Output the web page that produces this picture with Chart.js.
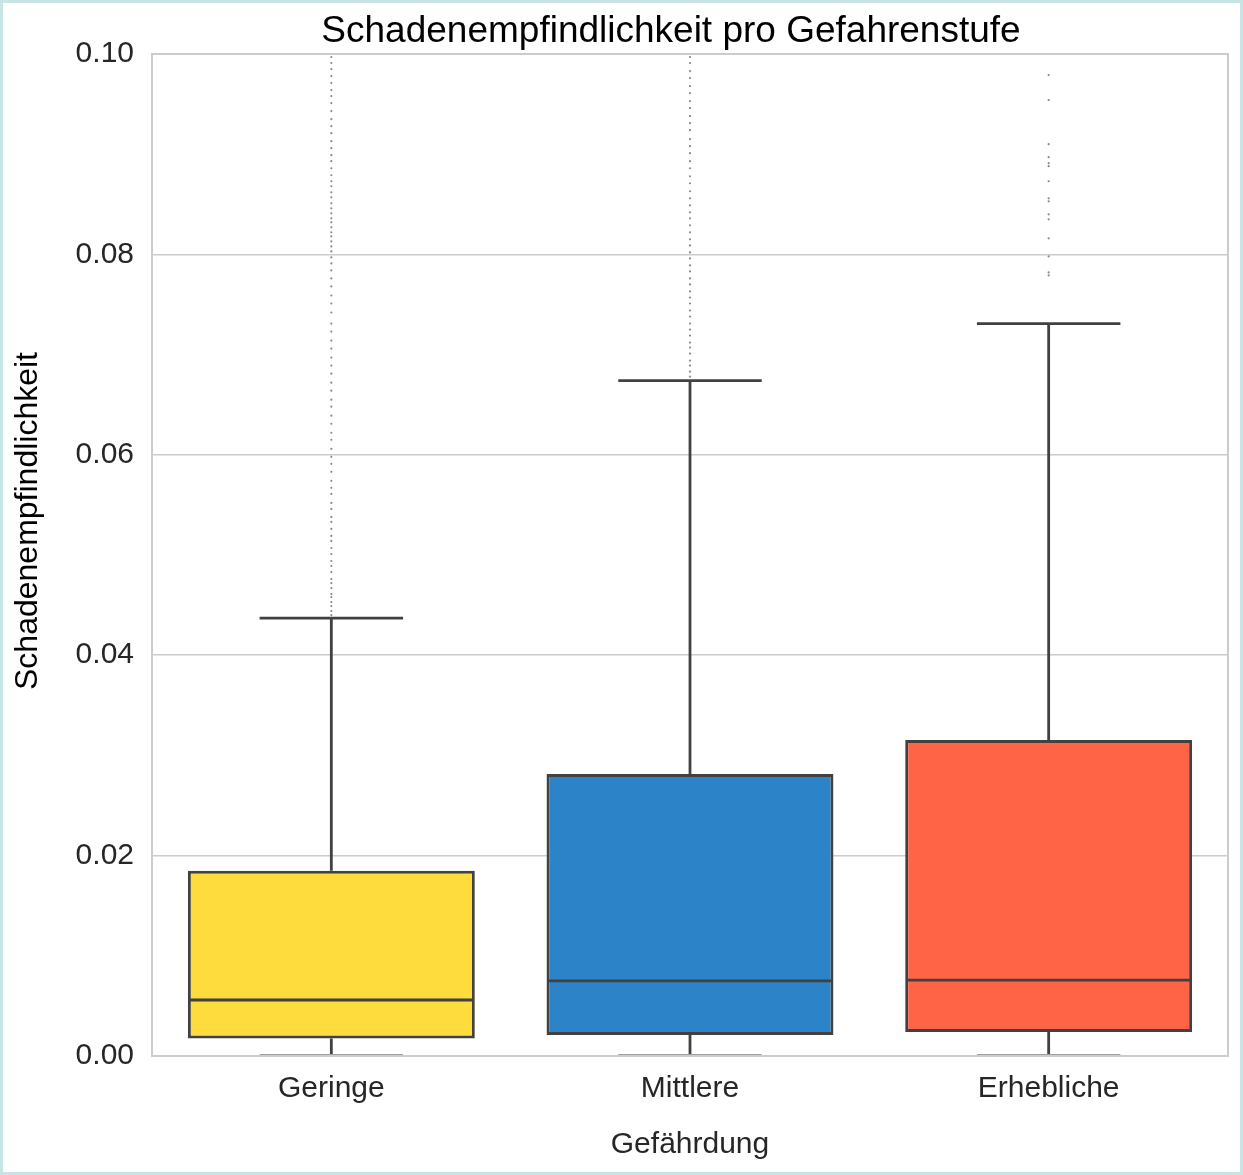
<!DOCTYPE html>
<html>
<head>
<meta charset="utf-8">
<script src="https://cdn.jsdelivr.net/npm/chart.js@4.4.1/dist/chart.umd.min.js"></script>
<style>
  html, body { margin: 0; padding: 0; background: #fff; }
  #frame { width: 1243px; height: 1175px; box-sizing: border-box; border: 3px solid #c8e4e4; position: relative; }
  #frame canvas { display: block; }
</style>
</head>
<body>
<div id="frame"><canvas id="mycanvas" width="1237" height="1169"></canvas></div>
<script>
var categories = ["Geringe", "Mittlere", "Erhebliche"];
var q1 = [0.00175, 0.0021, 0.0024];
var q3 = [0.0185, 0.02814, 0.03154];
var medians = [0.00559, 0.00749, 0.00758];
var whiskerLow = [0.0001, 0.0001, 0.0001];
var whiskerHigh = [0.0437, 0.0674, 0.0731];
var boxColors = ["#FEDC3D", "#2D83C8", "#FF6446"];
var yTicks = [0, 0.02, 0.04, 0.06, 0.08, 0.10];

var outliersGeringe = [0.0440, 0.0444, 0.0449, 0.0453, 0.0458, 0.0461, 0.0467, 0.0472, 0.0476, 0.0483,
  0.0489, 0.0494, 0.0501, 0.0507, 0.0514, 0.0519, 0.0526, 0.0533, 0.0538, 0.0546, 0.0552, 0.0561,
  0.0567, 0.0574, 0.0583, 0.0591, 0.0598, 0.0606, 0.0615, 0.0622, 0.0631, 0.0639, 0.0648, 0.0655,
  0.0664, 0.0672, 0.0681, 0.0689, 0.0697, 0.0706, 0.0714, 0.0723, 0.0731, 0.0742, 0.0751, 0.0759,
  0.0768, 0.0776, 0.0784, 0.0791, 0.0797, 0.0803, 0.0808, 0.0813, 0.0818, 0.0822, 0.0827, 0.0832,
  0.0836, 0.0841, 0.0846, 0.0851, 0.0857, 0.0862, 0.0868, 0.0873, 0.0879, 0.0886, 0.0893, 0.0899,
  0.0906, 0.0913, 0.0921, 0.0928, 0.0935, 0.0943, 0.0951, 0.0958, 0.0964, 0.0971, 0.0978, 0.0985,
  0.0991, 0.0997];
var outliersMittlere = [0.0678, 0.0683, 0.0689, 0.0694, 0.0701, 0.0707, 0.0712, 0.0719, 0.0725, 0.0731,
  0.0738, 0.0744, 0.0751, 0.0757, 0.0763, 0.0770, 0.0776, 0.0783, 0.0789, 0.0796, 0.0802, 0.0809,
  0.0815, 0.0822, 0.0829, 0.0836, 0.0842, 0.0849, 0.0856, 0.0863, 0.0871, 0.0878, 0.0886, 0.0893,
  0.0901, 0.0908, 0.0915, 0.0924, 0.0931, 0.0938, 0.0946, 0.0953, 0.0961, 0.0968, 0.0976, 0.0983,
  0.0991, 0.0997];
var outliersErhebliche = [0.0979, 0.0954, 0.0910, 0.0897, 0.0891, 0.0888, 0.0873, 0.0856, 0.0853,
  0.0840, 0.0835, 0.0816, 0.0798, 0.0782, 0.0779];

var FONT = "'Liberation Sans', Arial, sans-serif";

// outlier points as {x: category, y: value}
var outlierPoints = [];
[outliersGeringe, outliersMittlere, outliersErhebliche].forEach(function(list, i) {
  list.forEach(function(v) { outlierPoints.push({ x: categories[i], y: v }); });
});

var boxData = [];
for (var i in categories) {
  boxData.push([q1[i], q3[i]]);
}

// whiskers, caps, medians, frame and titles
var boxDetails = {
  id: 'boxDetails',
  afterDatasetsDraw: function(chart) {
    var ctx = chart.ctx;
    var y = chart.scales.y;
    var meta = chart.getDatasetMeta(0);
    ctx.save();
    ctx.lineCap = "butt";
    meta.data.forEach(function(bar, i) {
      var x = bar.x, w = bar.width;
      var pq1 = y.getPixelForValue(q1[i]);
      var pq3 = y.getPixelForValue(q3[i]);
      var plo = y.getPixelForValue(whiskerLow[i]);
      var phi = y.getPixelForValue(whiskerHigh[i]);
      var pmed = y.getPixelForValue(medians[i]);
      ctx.strokeStyle = "#414141";
      ctx.lineWidth = 2.8;
      ctx.beginPath();
      ctx.moveTo(x, pq3); ctx.lineTo(x, phi);
      ctx.moveTo(x - w / 4, phi); ctx.lineTo(x + w / 4, phi);
      ctx.moveTo(x, pq1); ctx.lineTo(x, plo);
      ctx.moveTo(x - w / 2 + 1, pmed); ctx.lineTo(x + w / 2 - 1, pmed);
      ctx.stroke();
      ctx.strokeStyle = "#a0a0a0";
      ctx.lineWidth = 2;
      ctx.beginPath();
      ctx.moveTo(x - w / 4, plo); ctx.lineTo(x + w / 4, plo);
      ctx.stroke();
    });
    ctx.restore();
  },
  afterDraw: function(chart) {
    var ctx = chart.ctx;
    var a = chart.chartArea;
    ctx.save();
    ctx.strokeStyle = "#cccccc";
    ctx.lineWidth = 2;
    ctx.strokeRect(a.left, a.top, a.right - a.left, a.bottom - a.top);
    ctx.fillStyle = "#000";
    ctx.font = "37px " + FONT;
    ctx.textAlign = "center";
    ctx.textBaseline = "middle";
    ctx.fillText("Schadenempfindlichkeit pro Gefahrenstufe", (a.left + a.right) / 2 - 19, 29);
    // y axis title, sits a bit above the plot centre like the original
    ctx.translate(25, (a.top + a.bottom) / 2 - 34);
    ctx.rotate(-Math.PI / 2);
    ctx.font = "32px " + FONT;
    ctx.fillText("Schadenempfindlichkeit", 0, 0);
    ctx.restore();
  }
};

var ctx = document.getElementById("mycanvas");
var chart = new Chart(ctx, {
  type: 'bar',
  data: {
    labels: categories,
    datasets: [
      {
        label: "Box",
        data: boxData,
        backgroundColor: boxColors,
        borderColor: "#414141",
        borderWidth: 3,
        borderSkipped: false,
        categoryPercentage: 0.8,
        barPercentage: 1.0,
        order: 2
      },
      {
        type: 'line',
        label: "Ausreißer",
        data: outlierPoints,
        showLine: false,
        pointRadius: 1.1,
        pointBorderWidth: 0,
        pointBackgroundColor: "#8a8a8a",
        order: 1
      }
    ]
  },
  options: {
    responsive: false,
    animation: false,
    layout: { padding: { left: 0, right: 12, top: 51, bottom: 0 } },
    plugins: {
      legend: { display: false },
      tooltip: { enabled: false },
      title: { display: false }
    },
    scales: {
      x: {
        grid: { display: false, drawTicks: false },
        border: { display: true, color: "#cccccc", width: 2 },
        ticks: { color: "#262626", padding: 15, font: { family: FONT, size: 30 } },
        title: {
          display: true, text: "Gefährdung", color: "#262626",
          font: { family: FONT, size: 30 }, padding: { top: 0, bottom: 9 }
        },
        afterFit: function(scale) { scale.height = 116; }
      },
      y: {
        min: 0,
        max: 0.1,
        afterBuildTicks: function(scale) {
          scale.ticks = yTicks.map(function(v) { return { value: v }; });
        },
        grid: { color: "#cccccc", lineWidth: 1.5, drawTicks: false },
        border: { display: true, color: "#cccccc", width: 2 },
        ticks: {
          color: "#262626", padding: 18, font: { family: FONT, size: 30 },
          callback: function(v) { return Number(v).toFixed(2); }
        },
        title: { display: false },
        afterFit: function(scale) { scale.width = 149; }
      }
    }
  },
  plugins: [boxDetails]
});
</script>
</body>
</html>
